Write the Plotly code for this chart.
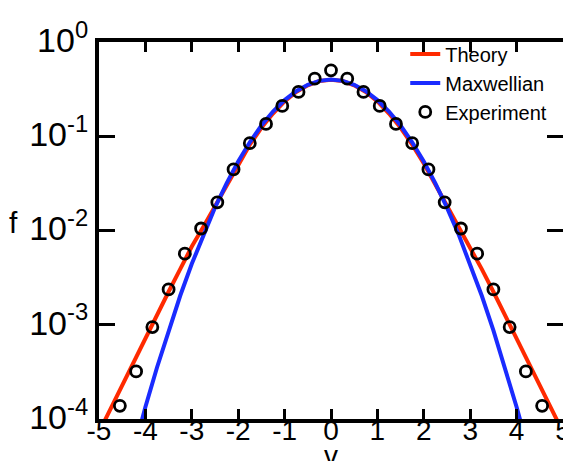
import plotly.graph_objects as go

# Theory curve
v_theory = [-5.0, -4.75, -4.5, -4.25, -4.0, -3.75, -3.5, -3.25, -3.0, -2.75, -2.5, -2.25, -2.0,
            -1.75, -1.5, -1.25, -1.0, -0.75, -0.5, -0.25, 0.0, 0.25, 0.5, 0.75, 1.0, 1.25, 1.5,
            1.75, 2.0, 2.25, 2.5, 2.75, 3.0, 3.25, 3.5, 3.75, 4.0, 4.25, 4.5, 4.75, 5.0]
f_theory = [7.24e-5, 1.29e-4, 2.29e-4, 3.98e-4, 7.08e-4, 1.26e-3, 2.24e-3, 3.89e-3, 6.76e-3,
            1.096e-2, 1.82e-2, 3.09e-2, 5.13e-2, 8.13e-2, 0.123, 0.174, 0.234, 0.295, 0.347,
            0.385, 0.398, 0.385, 0.347, 0.295, 0.234, 0.174, 0.123, 8.13e-2, 5.13e-2, 3.09e-2,
            1.82e-2, 1.096e-2, 6.76e-3, 3.89e-3, 2.24e-3, 1.26e-3, 7.08e-4, 3.98e-4, 2.29e-4,
            1.29e-4, 7.24e-5]

# Maxwellian curve
v_maxw = [-4.5, -4.25, -4.0, -3.75, -3.5, -3.25, -3.0, -2.75, -2.5, -2.25, -2.0, -1.75, -1.5,
          -1.25, -1.0, -0.75, -0.5, -0.25, 0.0, 0.25, 0.5, 0.75, 1.0, 1.25, 1.5, 1.75, 2.0,
          2.25, 2.5, 2.75, 3.0, 3.25, 3.5, 3.75, 4.0, 4.25, 4.5]
f_maxw = [1.6e-5, 4.8e-5, 1.34e-4, 3.52e-4, 8.73e-4, 2.03e-3, 4.43e-3, 9.09e-3, 1.75e-2,
          3.17e-2, 5.40e-2, 8.63e-2, 0.130, 0.183, 0.242, 0.301, 0.352, 0.387, 0.399, 0.387,
          0.352, 0.301, 0.242, 0.183, 0.130, 8.63e-2, 5.40e-2, 3.17e-2, 1.75e-2, 9.09e-3,
          4.43e-3, 2.03e-3, 8.73e-4, 3.52e-4, 1.34e-4, 4.8e-5, 1.6e-5]

# Experiment points
v_exp = [-4.55, -4.2, -3.85, -3.5, -3.15, -2.8, -2.45, -2.1, -1.75, -1.4, -1.05, -0.7, -0.35,
         0.0, 0.35, 0.7, 1.05, 1.4, 1.75, 2.1, 2.45, 2.8, 3.15, 3.5, 3.85, 4.2, 4.55]
f_exp = [1.38e-4, 3.2e-4, 9.44e-4, 2.37e-3, 5.67e-3, 1.05e-2, 1.99e-2, 4.45e-2, 8.44e-2,
         0.135, 0.210, 0.295, 0.408, 0.50, 0.408, 0.295, 0.210, 0.135, 8.44e-2, 4.45e-2,
         1.99e-2, 1.05e-2, 5.67e-3, 2.37e-3, 9.44e-4, 3.2e-4, 1.38e-4]

x_tickvals = [-5, -4, -3, -2, -1, 0, 1, 2, 3, 4, 5]
x_ticktext = ["-5", "-4", "-3", "-2", "-1", "0", "1", "2", "3", "4", "5"]
y_tickvals = [1e-4, 1e-3, 1e-2, 1e-1, 1]
y_ticktext = ["10<sup>-4</sup>", "10<sup>-3</sup>", "10<sup>-2</sup>", "10<sup>-1</sup>", "10<sup>0</sup>"]

FONT = "Liberation Sans, Arial, sans-serif"

fig = go.Figure()
fig.add_trace(go.Scatter(x=v_theory, y=f_theory, mode="lines", name="Theory",
                         line=dict(color="#ff2a00", width=4)))
fig.add_trace(go.Scatter(x=v_maxw, y=f_maxw, mode="lines", name="Maxwellian",
                         line=dict(color="#1a2bff", width=4)))
fig.add_trace(go.Scatter(x=v_exp, y=f_exp, mode="markers", name="Experiment",
                         marker=dict(symbol="circle-open", size=11, color="black",
                                     line=dict(width=2.8, color="black"))))

fig.update_layout(
    width=571, height=461,
    margin=dict(l=91, r=8, t=33, b=50),
    paper_bgcolor="white", plot_bgcolor="white",
    font=dict(family=FONT, color="black"),
    showlegend=True,
    legend=dict(x=0.66, y=1.02, xanchor="left", yanchor="top",
                bgcolor="rgba(0,0,0,0)", font=dict(size=20, family=FONT),
                tracegroupgap=0, itemwidth=30),
    xaxis=dict(range=[-5, 5], tickmode="array", tickvals=x_tickvals, ticktext=x_ticktext,
               ticks="inside", ticklen=10, tickwidth=3, tickcolor="black",
               showline=True, linewidth=4, linecolor="black", mirror="ticks",
               showgrid=False, zeroline=False, tickfont=dict(size=28, family=FONT),
               ticklabelstandoff=-17),
    yaxis=dict(type="log", range=[-4, 0], tickmode="array", tickvals=y_tickvals,
               ticktext=y_ticktext,
               ticks="inside", ticklen=16, tickwidth=3, tickcolor="black",
               showline=True, linewidth=4, linecolor="black", mirror="ticks",
               showgrid=False, zeroline=False, tickfont=dict(size=34, family=FONT),
               ticklabelshift=-2),
    annotations=[
        dict(text="f", xref="paper", yref="paper", x=-0.184, y=0.52, xanchor="center",
             yanchor="middle", showarrow=False, font=dict(size=30, family=FONT)),
        dict(text="v", xref="paper", yref="paper", x=0.5, y=-0.05, xanchor="center",
             yanchor="top", showarrow=False, font=dict(size=28, family=FONT)),
    ],
)

fig.write_html("out.html")
